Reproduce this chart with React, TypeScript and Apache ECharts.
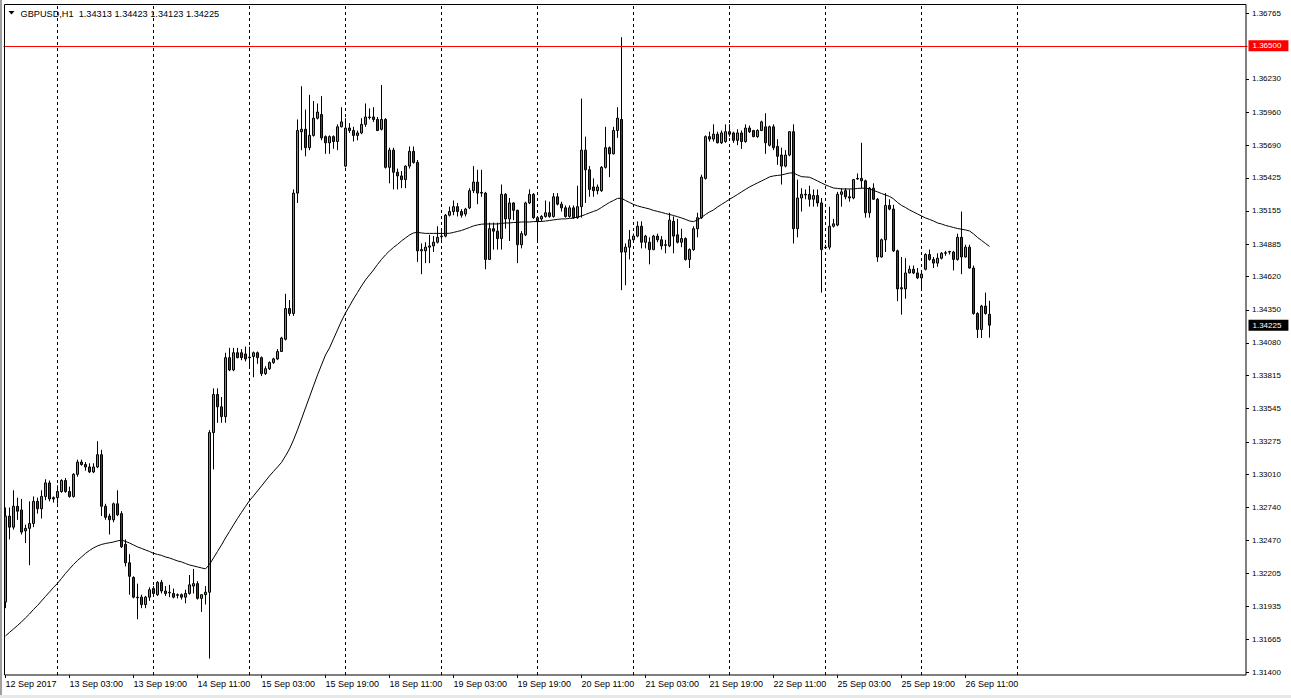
import React, { useEffect, useRef } from "react";
import * as echarts from "echarts";

// [open, close, low, high] per H1 bar, 12 Sep 2017 11:00 .. 26 Sep 2017 17:00
const ohlc: number[][] = [
  [1.3197,1.3267,1.3192,1.3274],[1.3267,1.3258,1.3248,1.3274],[1.3258,1.3275,1.3256,1.3288],[1.3275,1.3271,1.3264,1.3282],
  [1.3272,1.3254,1.3252,1.3281],[1.3255,1.3257,1.3245,1.3260],[1.3257,1.3261,1.3227,1.3279],[1.3261,1.3279,1.3258,1.3283],
  [1.3279,1.3273,1.3269,1.3282],[1.3273,1.3283,1.3265,1.3288],[1.3283,1.3294,1.3280,1.3297],[1.3294,1.3281,1.3279,1.3296],
  [1.3282,1.3281,1.3278,1.3283],[1.3282,1.3287,1.3277,1.3292],[1.3287,1.3296,1.3286,1.3297],[1.3296,1.3287,1.3286,1.3298],
  [1.3287,1.3283,1.3282,1.3291],[1.3283,1.3301,1.3282,1.3302],[1.3301,1.3311,1.3299,1.3313],[1.3311,1.3309,1.3308,1.3313],
  [1.3309,1.3307,1.3304,1.3311],[1.3307,1.3303,1.3302,1.3310],[1.3303,1.3307,1.3302,1.3310],[1.3307,1.3317,1.3306,1.3328],
  [1.3317,1.3275,1.3267,1.3321],[1.3275,1.3266,1.3264,1.3277],[1.3267,1.3264,1.3252,1.3269],[1.3264,1.3277,1.3262,1.3278],
  [1.3277,1.3268,1.3267,1.3288],[1.3269,1.3242,1.3241,1.3271],[1.3244,1.3229,1.3226,1.3248],[1.3229,1.3218,1.3203,1.3236],
  [1.3217,1.3201,1.3200,1.3218],[1.3201,1.32005,1.3183,1.3212],[1.3201,1.3195,1.3192,1.3203],[1.3195,1.3201,1.3192,1.3202],
  [1.3201,1.3207,1.3198,1.3209],[1.3208,1.3204,1.3202,1.3210],[1.3203,1.3213,1.3202,1.3214],[1.3213,1.3206,1.3204,1.3215],
  [1.3206,1.3204,1.3202,1.3210],[1.3205,1.32045,1.3201,1.3211],[1.3204,1.3201,1.3200,1.3208],[1.3203,1.32025,1.3200,1.3204],
  [1.3203,1.3201,1.3199,1.3204],[1.3201,1.3204,1.3196,1.3207],[1.3204,1.3211,1.3203,1.3219],[1.3210,1.3212,1.3204,1.3224],
  [1.3212,1.3200,1.3199,1.3214],[1.3200,1.3203,1.3189,1.3203],[1.3203,1.3205,1.3195,1.3210],[1.3205,1.3335,1.3151,1.3337],
  [1.3335,1.3366,1.3305,1.3371],[1.3366,1.3356,1.3343,1.3371],[1.3356,1.3348,1.3343,1.3364],[1.3348,1.3396,1.3343,1.3400],
  [1.3396,1.3386,1.3385,1.3404],[1.3386,1.3400,1.3385,1.3404],[1.3400,1.3396,1.33955,1.3404],[1.3400,1.3396,1.3394,1.3403],
  [1.3399,1.3395,1.3393,1.3405],[1.3396,1.33965,1.3389,1.3405],[1.3397,1.3400,1.3380,1.3401],[1.3400,1.3396,1.3391,1.3401],
  [1.3396,1.3383,1.3381,1.3397],[1.3383,1.3387,1.3382,1.3389],[1.3387,1.3392,1.3386,1.3393],[1.3392,1.3395,1.3391,1.3396],
  [1.3395,1.3401,1.3394,1.3403],[1.3401,1.3412,1.3401,1.3413],[1.3411,1.3436,1.3410,1.3448],[1.3436,1.3432,1.3430,1.3443],
  [1.3432,1.3530,1.3430,1.3533],[1.3530,1.3581,1.3522,1.3590],[1.3580,1.3582,1.3565,1.3617],[1.3582,1.3567,1.3560,1.3598],
  [1.3567,1.3577,1.3565,1.3610],[1.3577,1.3591,1.3576,1.3605],[1.3591,1.3596,1.3590,1.3603],[1.3594,1.3575,1.3573,1.3609],
  [1.3576,1.3571,1.3562,1.3577],[1.3571,1.3576,1.3562,1.3577],[1.3576,1.3572,1.3566,1.3577],[1.3572,1.3584,1.3565,1.3586],
  [1.3584,1.3588,1.35836,1.3600],[1.3552,1.3583,1.3551,1.3591],[1.3583,1.3581,1.3579,1.3587],[1.3581,1.3577,1.3572,1.3584],
  [1.3577,1.3579,1.3573,1.3581],[1.3579,1.3586,1.3578,1.3591],[1.3586,1.3592,1.3584,1.3603],[1.3592,1.35915,1.3590,1.3599],
  [1.3592,1.3590,1.3588,1.3600],[1.3590,1.3581,1.35805,1.3592],[1.3582,1.3590,1.3581,1.3618],[1.3590,1.3551,1.3550,1.3591],
  [1.3551,1.3565,1.3538,1.3567],[1.3565,1.3547,1.3533,1.3567],[1.3547,1.3544,1.3533,1.3550],[1.3544,1.3541,1.3534,1.3548],
  [1.3541,1.3552,1.3534,1.35525],[1.3552,1.3564,1.3550,1.3568],[1.3564,1.3555,1.3554,1.3568],[1.3555,1.3483,1.3474,1.3557],
  [1.3483,1.3484,1.3464,1.3489],[1.3483,1.3486,1.3473,1.3490],[1.3486,1.3487,1.3473,1.3496],[1.3487,1.3490,1.3482,1.3495],
  [1.3490,1.3494,1.3489,1.3503],[1.34945,1.3495,1.3492,1.3499],[1.3495,1.3512,1.3494,1.3513],[1.3512,1.3515,1.3511,1.3519],
  [1.3515,1.3519,1.3512,1.3524],[1.3519,1.3515,1.3511,1.3522],[1.3515,1.3512,1.3510,1.3517],[1.3513,1.3517,1.3511,1.3518],
  [1.3518,1.3532,1.3517,1.3534],[1.3532,1.3539,1.3530,1.3552],[1.3539,1.3530,1.3521,1.3549],[1.3530,1.35305,1.3527,1.3549],
  [1.3530,1.3476,1.3468,1.3531],[1.3476,1.3501,1.34755,1.3506],[1.3501,1.3499,1.3484,1.3506],[1.3499,1.3493,1.3484,1.3506],
  [1.3493,1.3529,1.3484,1.3537],[1.3529,1.3509,1.3501,1.3530],[1.3509,1.3522,1.3491,1.3526],[1.3522,1.3516,1.3508,1.35225],
  [1.3516,1.3488,1.3473,1.35165],[1.3488,1.3497,1.3485,1.3499],[1.3496,1.3522,1.3495,1.3523],[1.3522,1.3529,1.3521,1.3533],
  [1.3529,1.3510,1.3509,1.3530],[1.3510,1.3507,1.3491,1.3511],[1.3509,1.3511,1.3507,1.3512],[1.3511,1.3514,1.3510,1.3524],
  [1.3514,1.3511,1.3510,1.3523],[1.3511,1.3527,1.3510,1.3530],[1.3527,1.3521,1.3520,1.3530],[1.3521,1.3518,1.3515,1.3523],
  [1.3518,1.3511,1.3510,1.3520],[1.3511,1.3518,1.3510,1.3520],[1.3518,1.3510,1.3509,1.3520],[1.3510,1.3519,1.3509,1.3536],
  [1.3519,1.3565,1.3510,1.3607],[1.3565,1.3549,1.3522,1.3576],[1.3549,1.3533,1.3527,1.3552],[1.3535,1.3532,1.3527,1.3542],
  [1.3532,1.3535,1.3529,1.3537],[1.3532,1.3551,1.3531,1.3552],[1.3551,1.3567,1.3550,1.3584],[1.3567,1.3562,1.3543,1.3568],
  [1.3562,1.3581,1.35615,1.3584],[1.3581,1.3591,1.3575,1.3600],[1.3590,1.3482,1.3451,1.3657],[1.3482,1.3486,1.3455,1.3489],
  [1.3486,1.3492,1.3476,1.3500],[1.3492,1.3495,1.34915,1.3497],[1.3495,1.3503,1.3494,1.3507],[1.3503,1.3490,1.3485,1.3507],
  [1.3490,1.3495,1.3485,1.3496],[1.3490,1.3484,1.3472,1.3494],[1.3484,1.3495,1.34835,1.3496],[1.3495,1.3492,1.3490,1.3497],
  [1.3492,1.3487,1.3484,1.3495],[1.3488,1.34875,1.3481,1.3492],[1.3487,1.3508,1.3486,1.3514],[1.3507,1.3495,1.3481,1.3511],
  [1.3496,1.3490,1.3489,1.3509],[1.3490,1.3493,1.3486,1.3501],[1.3493,1.3476,1.3475,1.3494],[1.3476,1.3484,1.3469,1.3485],
  [1.3484,1.3501,1.3483,1.3503],[1.3501,1.3510,1.3494,1.3514],[1.3510,1.3543,1.3509,1.3545],[1.3542,1.3576,1.3541,1.3577],
  [1.3576,1.3574,1.3572,1.3580],[1.3574,1.3578,1.3572,1.3586],[1.3578,1.3571,1.35705,1.3580],[1.3571,1.3579,1.3570,1.3581],
  [1.3572,1.3580,1.3571,1.3586],[1.3580,1.3578,1.3576,1.3586],[1.3579,1.3573,1.3571,1.3580],[1.3573,1.3579,1.3569,1.3582],
  [1.3579,1.3572,1.3566,1.3581],[1.3572,1.3583,1.3571,1.3586],[1.3583,1.3580,1.3579,1.3585],[1.3581,1.3576,1.35755,1.35815],
  [1.3576,1.3581,1.3575,1.3582],[1.3581,1.3588,1.35805,1.3589],[1.3584,1.3571,1.3562,1.3595],[1.3569,1.3584,1.3568,1.3585],
  [1.3584,1.3567,1.3565,1.3586],[1.3568,1.3560,1.3553,1.3574],[1.3561,1.3552,1.3537,1.3567],[1.3552,1.3561,1.3551,1.3565],
  [1.3561,1.3580,1.3560,1.35805],[1.3580,1.3501,1.3489,1.3586],[1.3501,1.3526,1.3494,1.3541],[1.3526,1.3529,1.3515,1.3534],
  [1.3529,1.35285,1.3525,1.3533],[1.3529,1.3525,1.3519,1.3536],[1.3525,1.3528,1.3519,1.3533],[1.3528,1.3522,1.3519,1.3533],
  [1.3522,1.3484,1.3449,1.3526],[1.3486,1.34855,1.34845,1.3488],[1.3486,1.3503,1.3484,1.3519],[1.3503,1.3505,1.3502,1.3509],
  [1.3504,1.3529,1.3503,1.3531],[1.3529,1.3531,1.3519,1.3534],[1.3532,1.3527,1.3525,1.3534],[1.3527,1.3526,1.3523,1.3533],
  [1.3526,1.3541,1.3525,1.35415],[1.3542,1.35415,1.3541,1.3546],[1.3542,1.3540,1.3534,1.3571],[1.3540,1.3514,1.3510,1.3541],
  [1.3514,1.3534,1.3510,1.3535],[1.3534,1.3525,1.35245,1.3538],[1.3525,1.3478,1.3474,1.3526],[1.3478,1.3492,1.34775,1.3493],
  [1.3492,1.3520,1.3482,1.3530],[1.3520,1.3517,1.3516,1.3525],[1.3517,1.3483,1.3482,1.35205],[1.3483,1.3452,1.3442,1.3484],
  [1.3452,1.3453,1.3431,1.3478],[1.3452,1.3465,1.3444,1.3477],[1.3465,1.3468,1.34645,1.3471],[1.3468,1.3465,1.3464,1.3471],
  [1.3465,1.3461,1.3460,1.3469],[1.3461,1.3464,1.3452,1.3467],[1.3468,1.3480,1.3467,1.3481],[1.3480,1.3476,1.3475,1.3484],
  [1.3476,1.3473,1.3469,1.3478],[1.3473,1.3477,1.3470,1.3481],[1.3477,1.3481,1.3476,1.3482],[1.3481,1.34815,1.3479,1.3483],
  [1.3482,1.34825,1.3480,1.3483],[1.3482,1.3476,1.3467,1.3483],[1.3476,1.3494,1.3475,1.3497],[1.3494,1.3478,1.3464,1.3515],
  [1.3478,1.3486,1.34775,1.3488],[1.3486,1.3469,1.34685,1.3488],[1.3469,1.3432,1.3431,1.3471],[1.3432,1.3419,1.3412,1.3433],
  [1.3419,1.3438,1.3412,1.3439],[1.3438,1.3432,1.3431,1.3449],[1.34313,1.34225,1.34123,1.34423],
];

// moving average line, one value per bar
const maLine: number[] = [
  1.31694,1.31723,1.31751,1.31779,1.31808,1.31841,1.31873,1.31910,1.31942,1.31979,
  1.32016,1.32052,1.32089,1.32123,1.32162,1.32203,1.32240,1.32276,1.32309,1.32337,
  1.32366,1.32390,1.32411,1.32427,1.32439,1.32447,1.32453,1.32459,1.32468,1.32474,
  1.32464,1.32451,1.32435,1.32419,1.32407,1.32394,1.32382,1.32367,1.32358,1.32350,
  1.32337,1.32329,1.32317,1.32305,1.32297,1.32284,1.32272,1.32264,1.32256,1.32248,
  1.32240,1.32276,1.32329,1.32382,1.32435,1.32492,1.32545,1.32598,1.32651,1.32700,
  1.32749,1.32796,1.32834,1.32875,1.32915,1.32956,1.32997,1.33034,1.33070,1.33107,
  1.33160,1.33217,1.33290,1.33372,1.33461,1.33551,1.33640,1.33730,1.33819,1.33901,
  1.33982,1.34039,1.34113,1.34186,1.34259,1.34324,1.34381,1.34438,1.34491,1.34544,
  1.34593,1.34634,1.34674,1.34719,1.34760,1.34797,1.34829,1.34858,1.34882,1.34911,
  1.34935,1.34959,1.34976,1.34980,1.34976,1.34972,1.34972,1.34972,1.34972,1.34972,
  1.34972,1.34973,1.34980,1.34988,1.34996,1.35008,1.35020,1.35033,1.35041,1.35047,
  1.35049,1.35049,1.35049,1.35049,1.35053,1.35057,1.35057,1.35061,1.35061,1.35065,
  1.35065,1.35065,1.35068,1.35068,1.35069,1.35073,1.35077,1.35082,1.35086,1.35090,
  1.35090,1.35094,1.35097,1.35106,1.35114,1.35126,1.35139,1.35151,1.35163,1.35183,
  1.35204,1.35224,1.35240,1.35257,1.35258,1.35240,1.35224,1.35208,1.35196,1.35187,
  1.35179,1.35171,1.35159,1.35151,1.35143,1.35134,1.35126,1.35118,1.35108,1.35098,
  1.35086,1.35073,1.35068,1.35082,1.35102,1.35126,1.35147,1.35163,1.35187,1.35208,
  1.35228,1.35250,1.35269,1.35289,1.35310,1.35330,1.35350,1.35367,1.35383,1.35399,
  1.35415,1.35432,1.35440,1.35444,1.35448,1.35456,1.35464,1.35464,1.35448,1.35434,
  1.35432,1.35429,1.35415,1.35399,1.35383,1.35367,1.35354,1.35342,1.35338,1.35334,
  1.35334,1.35334,1.35334,1.35338,1.35340,1.35340,1.35334,1.35322,1.35310,1.35297,
  1.35285,1.35273,1.35253,1.35224,1.35200,1.35183,1.35163,1.35147,1.35130,1.35114,
  1.35098,1.35086,1.35073,1.35057,1.35049,1.35037,1.35029,1.35020,1.35012,1.35006,
  1.35000,1.34992,1.34968,1.34939,1.34915,1.34890,1.34866,
];

const timeLabelIdx = [0, 16, 32, 48, 64, 80, 96, 112, 128, 144, 160, 176, 192, 208, 224, 240];
const timeLabels = [
  "12 Sep 2017", "13 Sep 03:00", "13 Sep 19:00", "14 Sep 11:00", "15 Sep 03:00", "15 Sep 19:00",
  "18 Sep 11:00", "19 Sep 03:00", "19 Sep 19:00", "20 Sep 11:00", "21 Sep 03:00", "21 Sep 19:00",
  "22 Sep 11:00", "25 Sep 03:00", "25 Sep 19:00", "26 Sep 11:00",
];
const daySeparatorIdx = [13, 37, 61, 85, 109, 133, 157, 181, 205, 229, 253];
const priceTicks = [
  1.36765, 1.36230, 1.35960, 1.35690, 1.35425, 1.35155, 1.34885, 1.34620, 1.34350, 1.34080,
  1.33815, 1.33545, 1.33275, 1.33010, 1.32740, 1.32470, 1.32205, 1.31935, 1.31665, 1.31400,
];
const levelLine = 1.365;
const lastBid = 1.34225;
const symbolTitle = "GBPUSD,H1";
const headerOHLC = [1.34313, 1.34423, 1.34123, 1.34225];
const SLOTS = 311; // visible bar slots incl. right-side shift

const FONT = '"Liberation Sans", Arial, sans-serif';

export default function App() {
  const ref = useRef<HTMLDivElement>(null);
  useEffect(() => {
    if (!ref.current) return;
    const chart = echarts.init(ref.current, undefined, { renderer: "svg" });
    const cats = Array.from({ length: SLOTS }, (_, i) => String(i));
    const labelMap = new Map<number, string>();
    timeLabelIdx.forEach((idx, k) => labelMap.set(idx, timeLabels[k]));
    const showIdx = (i: number) => labelMap.has(i);

    chart.setOption({
      animation: false,
      backgroundColor: "#ffffff",
      textStyle: { fontFamily: FONT },
      grid: { left: 3.5, top: 4, width: SLOTS * 4, height: 671, containLabel: false, show: false },
      xAxis: {
        type: "category",
        data: cats,
        boundaryGap: true,
        axisLine: { show: false },
        axisTick: { show: true, interval: showIdx, alignWithLabel: true, length: 3, lineStyle: { color: "#000", width: 1 } },
        axisLabel: {
          interval: showIdx,
          formatter: (_v: string, i: number) => labelMap.get(i) ?? "",
          align: "left",
          margin: 4,
          fontSize: 9,
          color: "#000",
          fontFamily: FONT,
        },
        splitLine: { show: false },
      },
      yAxis: {
        type: "value",
        position: "right",
        offset: -1.5,
        min: 1.31376,
        max: 1.3684,
        axisLine: { show: false },
        axisTick: { show: true, customValues: priceTicks, length: 3, lineStyle: { color: "#000", width: 1 } },
        axisLabel: {
          customValues: priceTicks,
          formatter: (v: number) => v.toFixed(5),
          margin: 6,
          fontSize: 8,
          color: "#000",
          fontFamily: FONT,
        },
        splitLine: { show: false },
      },
      series: [
        {
          type: "candlestick",
          data: ohlc,
          barWidth: 2,
          z: 3,
          itemStyle: {
            color: "#00dd00",
            color0: "#dd0000",
            borderColor: "#000000",
            borderColor0: "#000000",
            borderWidth: 1,
          },
          markLine: {
            silent: true,
            z: 1,
            symbol: ["none", "none"],
            label: { show: false },
            lineStyle: { color: "#000", type: [3, 3], width: 1 },
            data: daySeparatorIdx.map((i) => ({ xAxis: i })),
          },
        },
        {
          type: "line",
          data: maLine,
          showSymbol: false,
          symbol: "none",
          z: 4,
          lineStyle: { color: "#000", width: 1 },
          markLine: {
            silent: true,
            precision: 5,
            symbol: ["none", "none"],
            data: [
              {
                yAxis: levelLine,
                lineStyle: { color: "#ff0000", width: 1, type: "solid" },
                label: {
                  show: true,
                  position: "end",
                  distance: 1,
                  formatter: levelLine.toFixed(5),
                  backgroundColor: "#ff0000",
                  color: "#ffffff",
                  fontSize: 8,
                  fontFamily: FONT,
                  padding: [2, 7, 1, 4],
                },
              },
              {
                yAxis: lastBid,
                lineStyle: { color: "rgba(0,0,0,0)", width: 0 },
                label: {
                  show: true,
                  position: "end",
                  distance: 1,
                  formatter: lastBid.toFixed(5),
                  backgroundColor: "#000000",
                  color: "#ffffff",
                  fontSize: 8,
                  fontFamily: FONT,
                  padding: [2, 7, 1, 4],
                },
              },
            ],
          },
        },
      ],
      graphic: [
        {
          type: "rect",
          silent: true,
          z: 100,
          shape: { x: 0, y: 0, width: 2, height: 698 },
          style: { fill: "#a0a0a0" },
        },
        {
          type: "rect",
          silent: true,
          z: 100,
          shape: { x: 0, y: 695, width: 1291, height: 3 },
          style: { fill: "#e8e8e8" },
        },
        {
          type: "rect",
          silent: true,
          z: 100,
          shape: { x: 4.5, y: 4.5, width: 1241.5, height: 670.5 },
          style: { fill: "none", stroke: "#000", lineWidth: 1 },
        },
        {
          type: "polygon",
          silent: true,
          z: 100,
          shape: { points: [[8.5, 11], [14.5, 11], [11.5, 14.5]] },
          style: { fill: "#000" },
        },
        {
          type: "text",
          silent: true,
          z: 100,
          x: 20.5,
          y: 13.5,
          style: {
            text: symbolTitle + "  " + headerOHLC.map((v) => v.toFixed(5)).join(" "),
            fontSize: 9.2,
            fontFamily: FONT,
            fill: "#000",
            verticalAlign: "middle",
            align: "left",
          },
        },
      ],
    });
    return () => chart.dispose();
  }, []);
  return (
    <div
      ref={ref}
      style={{ position: "fixed", left: 0, top: 0, width: 1291, height: 698, background: "#fff" }}
    />
  );
}
